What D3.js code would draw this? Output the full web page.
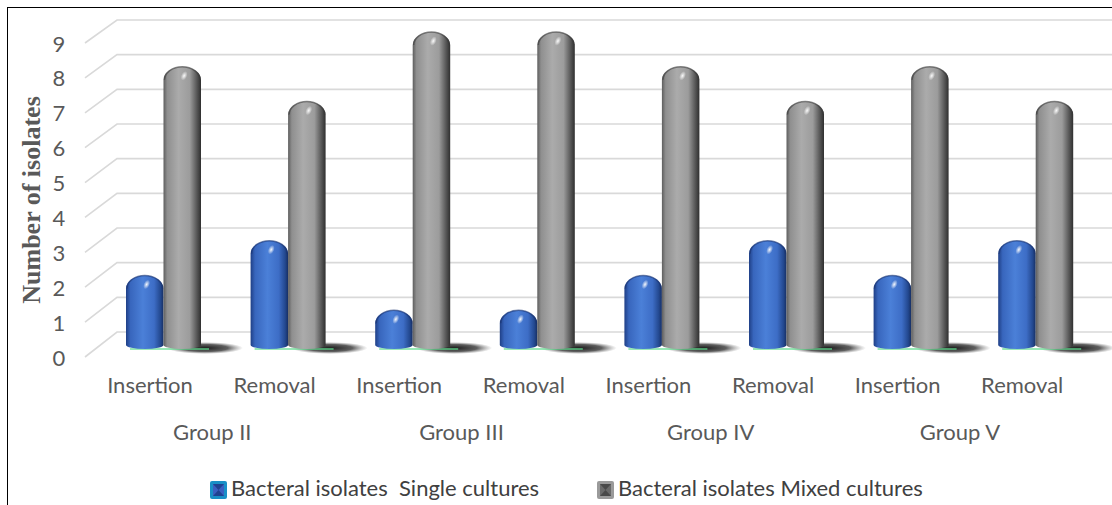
<!DOCTYPE html>
<html><head><meta charset="utf-8">
<script src="https://cdn.jsdelivr.net/npm/d3@7"></script>
<style>body{margin:0;background:#fff}svg{display:block}text{white-space:pre}</style>
</head><body>
<script>
const categories = ["Insertion","Removal","Insertion","Removal","Insertion","Removal","Insertion","Removal"];
const groups = ["Group II","Group III","Group IV","Group V"];
const seriesNames = ["Bacteral isolates  Single cultures","Bacteral isolates Mixed cultures"];
const singleCultures = [2,3,1,1,2,3,2,3];
const mixedCultures = [8,7,9,9,8,7,8,7];
const yTicks = [0,1,2,3,4,5,6,7,8,9];

const W=1112,H=505;
const svg=d3.select("body").append("svg").attr("width",W).attr("height",H);
const defs=svg.append("defs");

function hGrad(id,stops){const g=defs.append("linearGradient").attr("id",id).attr("x1","0").attr("x2","1").attr("y1","0").attr("y2","0");
 stops.forEach(s=>g.append("stop").attr("offset",s[0]).attr("stop-color",s[1]));}
hGrad("gBlue",[[0,"#1f3f86"],[0.12,"#3866bd"],[0.45,"#4b80d8"],[0.75,"#3d6dc6"],[0.92,"#23488f"],[1,"#172f63"]]);
hGrad("gGray",[[0,"#5e5e5e"],[0.1,"#8f8f8f"],[0.4,"#ababab"],[0.7,"#9c9c9c"],[0.88,"#5a5a5a"],[1,"#2f2f2f"]]);
const rg=defs.append("radialGradient").attr("id","gShadow");
rg.append("stop").attr("offset",0).attr("stop-color","#111").attr("stop-opacity",0.95);
rg.append("stop").attr("offset",0.6).attr("stop-color","#2a2a2a").attr("stop-opacity",0.75);
rg.append("stop").attr("offset",1).attr("stop-color","#666").attr("stop-opacity",0);
const hl=defs.append("radialGradient").attr("id","gHL");
hl.append("stop").attr("offset",0).attr("stop-color","#fff").attr("stop-opacity",0.95);
hl.append("stop").attr("offset",1).attr("stop-color","#fff").attr("stop-opacity",0);

// frame
svg.append("line").attr("x1",7).attr("x2",W).attr("y1",7.5).attr("y2",7.5).attr("stroke","#000").attr("stroke-width",1);
svg.append("line").attr("x1",7.5).attr("x2",7.5).attr("y1",7).attr("y2",H).attr("stroke","#000").attr("stroke-width",1);

// scales
const yBack=d3.scaleLinear().domain([0,9]).range([332,20]);
const yFront=d3.scaleLinear().domain([0,9]).range([357,43]);
const yBar=d3.scaleLinear().domain([0,9]).range([345,32]);
const x=d3.scaleBand().domain(d3.range(categories.length)).range([87.7,1084.5]).padding(0);
const xs=d3.scaleBand().domain([0,1]).range([-24,51]).padding(0);

// gridlines
const grid=svg.append("g");
yTicks.forEach(t=>{
 grid.append("path").attr("d",`M85,${yFront(t)}L117,${yBack(t)}L${W},${yBack(t)}`)
  .attr("fill","none").attr("stroke","#d9d9d9").attr("stroke-width",1.6);
});
// tick labels
svg.append("g").selectAll("text").data(yTicks).join("text")
 .attr("x",59).attr("y",d=>yFront(d)+3).attr("text-anchor","middle").attr("dominant-baseline","middle")
 .attr("font-family","Lato, 'Open Sans', sans-serif").attr("font-size",22).attr("fill","#595959").text(d=>d);

// y title
svg.append("text").attr("transform","translate(40,200) rotate(-90)").attr("text-anchor","middle")
 .attr("font-family","'Liberation Serif','Times New Roman',serif").attr("font-weight","bold").attr("font-size",26)
 .attr("fill","#595959").text("Number of isolates");

// bars
const bw=xs.bandwidth();
const series=[singleCultures,mixedCultures];
const fills=["url(#gBlue)","url(#gGray)"];
const base=yBar(0);
const barG=svg.append("g");
categories.forEach((c,i)=>{
 const cx=x(i)+x.bandwidth()/2;
 const right=cx+xs(1)+bw;
 barG.append("ellipse").attr("cx",right+4).attr("cy",base+3).attr("rx",38).attr("ry",6).attr("fill","url(#gShadow)");
 barG.append("line").attr("x1",cx+xs(0)+4).attr("x2",right+8).attr("y1",base+4).attr("y2",base+4)
  .attr("stroke","#5fdc8e").attr("stroke-width",1.5).attr("opacity",0.85);
 series.forEach((vals,s)=>{
  const v=vals[i];
  const x0=cx+xs(s), x1=x0+bw, top=yBar(v);
  const rx=bw/2, ry=13;
  const p=`M${x0},${base}L${x0},${top+ry}A${rx},${ry} 0 0 1 ${x1},${top+ry}L${x1},${base}A${rx},4 0 0 1 ${x0},${base}Z`;
  barG.append("path").attr("d",p).attr("fill",fills[s]);
  barG.append("path").attr("d",`M${x0+1},${top+ry}A${rx-1},${ry} 0 0 1 ${x1-1},${top+ry}`)
   .attr("fill","none").attr("stroke",s?"#3a3a3a":"#1b3470").attr("stroke-width",1.5).attr("opacity",0.6);
  barG.append("ellipse").attr("cx",x0+bw*0.55).attr("cy",top+9).attr("rx",3).attr("ry",5)
   .attr("transform",`rotate(25,${x0+bw*0.55},${top+9})`).attr("fill","url(#gHL)");
 });
});

// category labels
svg.append("g").selectAll("text").data(categories).join("text")
 .attr("x",(d,i)=>x(i)+x.bandwidth()/2).attr("y",387).attr("text-anchor","middle").attr("dominant-baseline","middle")
 .attr("font-family","Lato, 'Open Sans', sans-serif").attr("font-size",22).attr("fill","#595959").text(d=>d);
svg.append("g").selectAll("text").data(groups).join("text")
 .attr("x",(d,i)=>x(2*i)+x.bandwidth()).attr("y",434).attr("text-anchor","middle").attr("dominant-baseline","middle")
 .attr("font-family","Lato, 'Open Sans', sans-serif").attr("font-size",22).attr("fill","#595959").text(d=>d);

// legend
const legX=[210,597];
const legFill=[["#1a8fc6","#3b5fc0","#0f2f70"],["#9a9a9a","#6a6a6a","#333"]];
seriesNames.forEach((n,i)=>{
 const g=svg.append("g").attr("transform",`translate(${legX[i]},481)`);
 g.append("rect").attr("width",17).attr("height",18).attr("rx",2).attr("fill",legFill[i][0]);
 g.append("rect").attr("x",3).attr("y",3).attr("width",11).attr("height",12).attr("fill",legFill[i][1]);
 g.append("path").attr("d","M3,3L8.5,9L14,3Z").attr("fill",legFill[i][2]).attr("opacity",0.6);
 g.append("path").attr("d","M3,15L8.5,9L14,15Z").attr("fill",legFill[i][2]).attr("opacity",0.6);
 g.append("text").attr("x",21).attr("y",9.5).attr("dominant-baseline","middle")
  .attr("font-family","Lato, 'Open Sans', sans-serif").attr("font-size",22).attr("fill","#404040").text(n);
});
</script>
</body></html>
